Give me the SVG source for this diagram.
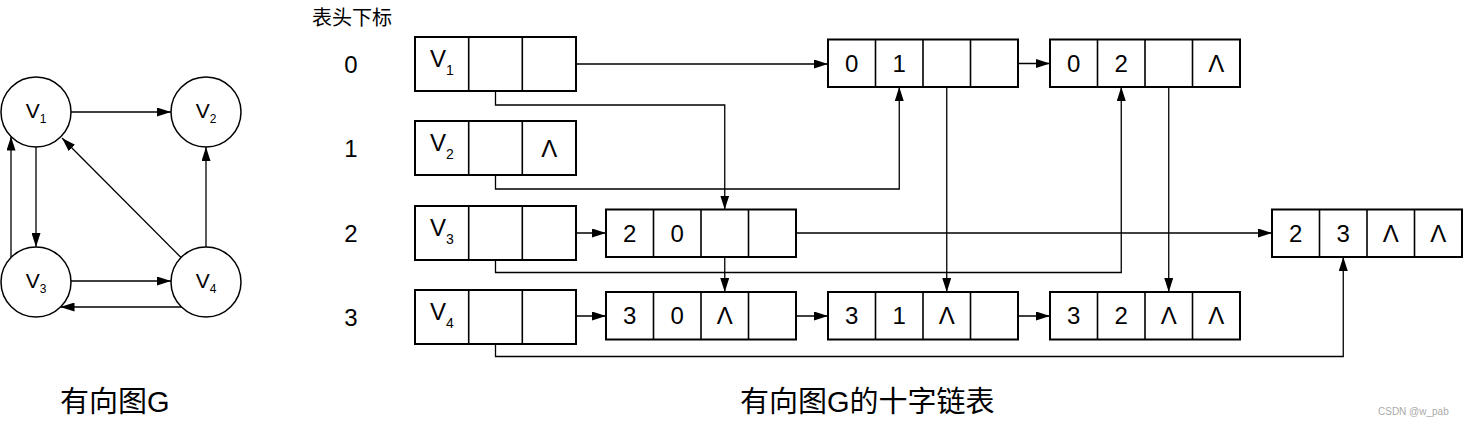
<svg xmlns="http://www.w3.org/2000/svg" width="1464" height="426" viewBox="0 0 1464 426">
<style>
.box{fill:#fff;stroke:#000;stroke-width:2}
.div{fill:none;stroke:#000;stroke-width:1.6}
.circ{fill:#fff;stroke:#000;stroke-width:1.5}
.t{font-family:"Liberation Sans",Arial,sans-serif;font-size:24px;text-anchor:middle;fill:#000}
.sub{font-size:14px}
.ct{font-family:"Liberation Sans",Arial,sans-serif;font-size:21px;text-anchor:middle;fill:#000}
.csub{font-size:12px}
.lbl{font-family:"Liberation Sans",Arial,sans-serif;font-size:24px;text-anchor:middle;fill:#000}
.cjk{font-family:"Liberation Sans","Noto Sans CJK SC",sans-serif;fill:#000}
.conn{fill:none;stroke:#000;stroke-width:1.3;marker-end:url(#arr)}
</style>
<defs>
<marker id="arr" markerWidth="14" markerHeight="9" refX="14" refY="4.5" orient="auto" markerUnits="userSpaceOnUse">
<path d="M0,0 L14,4.5 L0,9 z" fill="#000"/>
</marker>
</defs>
<rect width="1464" height="426" fill="#fff"/>

<!-- Left graph -->
<g id="graph-edges">
<path class="conn" d="M71,112 H171"/>
<path class="conn" d="M36,147 V247"/>
<path class="conn" d="M11,257.5 V136.5"/>
<path class="conn" d="M71,281 H171"/>
<path class="conn" d="M181.5,307 H60.5"/>
<path class="conn" d="M206,247 V147"/>
<path class="conn" d="M181,257.5 L62,138"/>
</g>
<g id="gv1"><circle class="circ" cx="36" cy="112" r="35"/><text class="ct" x="36" y="118">V<tspan class="csub" dy="5">1</tspan></text></g>
<g id="gv2"><circle class="circ" cx="206" cy="112" r="35"/><text class="ct" x="206" y="118">V<tspan class="csub" dy="5">2</tspan></text></g>
<g id="gv3"><circle class="circ" cx="36" cy="282" r="35"/><text class="ct" x="36" y="288">V<tspan class="csub" dy="5">3</tspan></text></g>
<g id="gv4"><circle class="circ" cx="206" cy="282" r="35"/><text class="ct" x="206" y="288">V<tspan class="csub" dy="5">4</tspan></text></g>

<text class="cjk" x="60" y="412" font-size="29">有向图G</text>

<!-- Orthogonal list -->
<text class="cjk" x="312" y="25" font-size="20">表头下标</text>
<text class="lbl" x="351" y="72.5">0</text>
<text class="lbl" x="351" y="156.5">1</text>
<text class="lbl" x="351" y="241.5">2</text>
<text class="lbl" x="351" y="325.5">3</text>

<g id="connectors">
<path class="conn" d="M555,64 H828"/>
<path class="conn" d="M495.5,69 V105 H724.75 V209.5"/>
<path class="conn" d="M495.5,153 V189 H899.25 V87"/>
<path class="conn" d="M555,233 H606"/>
<path class="conn" d="M495.5,238 V272.5 H1121.25 V87"/>
<path class="conn" d="M555,316 H606"/>
<path class="conn" d="M495.5,322 V356.5 H1343.25 V257"/>
<path class="conn" d="M999,63.5 H1050"/>
<path class="conn" d="M946.75,69 V292"/>
<path class="conn" d="M1168.75,69 V292"/>
<path class="conn" d="M724.75,239 V292"/>
<path class="conn" d="M777,233 H1272"/>
<path class="conn" d="M777,316 H828"/>
<path class="conn" d="M999,316 H1050"/>
</g>

<g id="head0"><rect class="box" x="415" y="37" width="161" height="54"/><path class="div" d="M468.7,37V91M522.3,37V91"/><text class="t" x="441.8" y="67">V<tspan class="sub" dy="8">1</tspan></text></g>
<g id="head1"><rect class="box" x="415" y="121" width="161" height="54"/><path class="div" d="M468.7,121V175M522.3,121V175"/><text class="t" x="441.8" y="151">V<tspan class="sub" dy="8">2</tspan></text><text class="t" x="549.2" y="156.5">Λ</text></g>
<g id="head2"><rect class="box" x="415" y="206" width="161" height="54"/><path class="div" d="M468.7,206V260M522.3,206V260"/><text class="t" x="441.8" y="236">V<tspan class="sub" dy="8">3</tspan></text></g>
<g id="head3"><rect class="box" x="415" y="290" width="161" height="54"/><path class="div" d="M468.7,290V344M522.3,290V344"/><text class="t" x="441.8" y="320">V<tspan class="sub" dy="8">4</tspan></text></g>

<g id="arc01"><rect class="box" x="828" y="39.5" width="190" height="47.5"/><path class="div" d="M875.5,39.5V87M923,39.5V87M970.5,39.5V87"/><text class="t" x="851.75" y="71.75">0</text><text class="t" x="899.25" y="71.75">1</text></g>
<g id="arc02"><rect class="box" x="1050" y="39.5" width="190" height="47.5"/><path class="div" d="M1097.5,39.5V87M1145,39.5V87M1192.5,39.5V87"/><text class="t" x="1073.75" y="71.75">0</text><text class="t" x="1121.25" y="71.75">2</text><text class="t" x="1216.25" y="71.75">Λ</text></g>
<g id="arc20"><rect class="box" x="606" y="209.5" width="190" height="47.5"/><path class="div" d="M653.5,209.5V257M701,209.5V257M748.5,209.5V257"/><text class="t" x="629.75" y="241.75">2</text><text class="t" x="677.25" y="241.75">0</text></g>
<g id="arc23"><rect class="box" x="1272" y="209.5" width="190" height="47.5"/><path class="div" d="M1319.5,209.5V257M1367,209.5V257M1414.5,209.5V257"/><text class="t" x="1295.75" y="241.75">2</text><text class="t" x="1343.25" y="241.75">3</text><text class="t" x="1390.75" y="241.75">Λ</text><text class="t" x="1438.25" y="241.75">Λ</text></g>
<g id="arc30"><rect class="box" x="606" y="292" width="190" height="47.5"/><path class="div" d="M653.5,292V339.5M701,292V339.5M748.5,292V339.5"/><text class="t" x="629.75" y="324.25">3</text><text class="t" x="677.25" y="324.25">0</text><text class="t" x="724.75" y="324.25">Λ</text></g>
<g id="arc31"><rect class="box" x="828" y="292" width="190" height="47.5"/><path class="div" d="M875.5,292V339.5M923,292V339.5M970.5,292V339.5"/><text class="t" x="851.75" y="324.25">3</text><text class="t" x="899.25" y="324.25">1</text><text class="t" x="946.75" y="324.25">Λ</text></g>
<g id="arc32"><rect class="box" x="1050" y="292" width="190" height="47.5"/><path class="div" d="M1097.5,292V339.5M1145,292V339.5M1192.5,292V339.5"/><text class="t" x="1073.75" y="324.25">3</text><text class="t" x="1121.25" y="324.25">2</text><text class="t" x="1168.75" y="324.25">Λ</text><text class="t" x="1216.25" y="324.25">Λ</text></g>

<text class="cjk" x="740" y="412" font-size="29">有向图G的十字链表</text>
<text x="1378" y="415" font-family="Liberation Sans,Arial,sans-serif" font-size="10" fill="#aaa">CSDN @w_pab</text>
</svg>
